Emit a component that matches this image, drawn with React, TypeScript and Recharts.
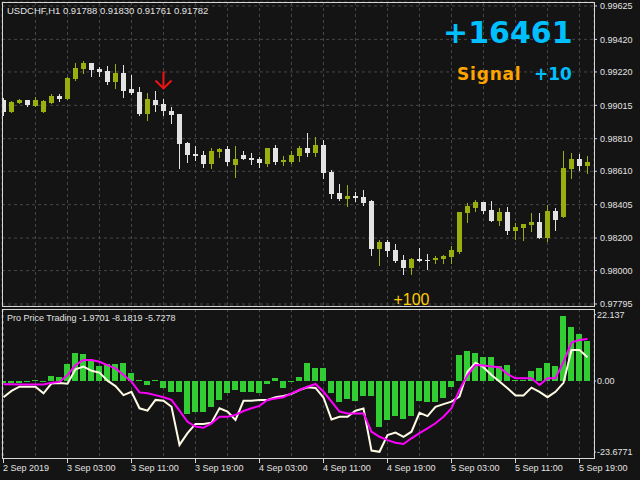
import React from 'react';
import {
  ComposedChart, Bar, Line, XAxis, YAxis, CartesianGrid, ReferenceDot,
} from 'recharts';

// USDCHF H1 candles (bar index = hour since 2 Sep 19:00)
const opens = [
  0.99048, 0.98974, 0.99029, 0.99048, 0.99011, 0.98974, 0.99029, 0.99072, 0.99054, 0.99177,
  0.99238, 0.99275, 0.99238, 0.99226, 0.99158, 0.99214, 0.99115, 0.99097, 0.98962, 0.99048,
  0.99023, 0.98980, 0.98962, 0.98784, 0.98716, 0.98710, 0.98655, 0.98728, 0.98747, 0.98649,
  0.98710, 0.98692, 0.98685, 0.98655, 0.98753, 0.98667, 0.98667, 0.98704, 0.98753, 0.98722,
  0.98771, 0.98606, 0.98477, 0.98440, 0.98458, 0.98452, 0.98428, 0.98133, 0.98176, 0.98127,
  0.98065, 0.98016, 0.98071, 0.98065, 0.98065, 0.98071, 0.98084, 0.98114, 0.98354, 0.98385,
  0.98421, 0.98372, 0.98305, 0.98360, 0.98243, 0.98262, 0.98280, 0.98299, 0.98200, 0.98366,
  0.98329, 0.98624, 0.98685, 0.98642,
];
const highs = [
  0.99060, 0.99042, 0.99054, 0.99048, 0.99066, 0.99048, 0.99085, 0.99085, 0.99189, 0.99275,
  0.99287, 0.99275, 0.99250, 0.99257, 0.99269, 0.99263, 0.99201, 0.99128, 0.99091, 0.99103,
  0.99054, 0.99005, 0.98962, 0.98790, 0.98765, 0.98735, 0.98753, 0.98753, 0.98765, 0.98765,
  0.98735, 0.98722, 0.98698, 0.98753, 0.98771, 0.98704, 0.98735, 0.98765, 0.98845, 0.98821,
  0.98802, 0.98618, 0.98532, 0.98526, 0.98483, 0.98495, 0.98434, 0.98188, 0.98188, 0.98163,
  0.98096, 0.98077, 0.98139, 0.98102, 0.98090, 0.98096, 0.98151, 0.98360, 0.98415, 0.98434,
  0.98421, 0.98428, 0.98385, 0.98391, 0.98292, 0.98286, 0.98354, 0.98354, 0.98403, 0.98385,
  0.98735, 0.98722, 0.98716, 0.98704,
];
const lows = [
  0.98956, 0.98974, 0.99029, 0.99011, 0.99011, 0.98974, 0.99029, 0.99042, 0.99054, 0.99171,
  0.99214, 0.99195, 0.99195, 0.99146, 0.99121, 0.99066, 0.99085, 0.98956, 0.98925, 0.98980,
  0.98956, 0.98907, 0.98630, 0.98667, 0.98679, 0.98636, 0.98630, 0.98698, 0.98649, 0.98575,
  0.98685, 0.98655, 0.98636, 0.98642, 0.98655, 0.98649, 0.98661, 0.98673, 0.98704, 0.98704,
  0.98569, 0.98446, 0.98434, 0.98397, 0.98428, 0.98403, 0.98096, 0.98034, 0.98090, 0.98053,
  0.97979, 0.97979, 0.98059, 0.98010, 0.98047, 0.98047, 0.98047, 0.98108, 0.98299, 0.98366,
  0.98354, 0.98305, 0.98280, 0.98225, 0.98194, 0.98188, 0.98243, 0.98200, 0.98182, 0.98249,
  0.98329, 0.98569, 0.98618, 0.98599,
];
const closes = [
  0.98974, 0.99035, 0.99048, 0.99017, 0.99048, 0.99042, 0.99072, 0.99054, 0.99183, 0.99244,
  0.99275, 0.99232, 0.99220, 0.99158, 0.99214, 0.99103, 0.99091, 0.98962, 0.99054, 0.99017,
  0.98980, 0.98956, 0.98778, 0.98710, 0.98704, 0.98655, 0.98735, 0.98747, 0.98667, 0.98685,
  0.98685, 0.98679, 0.98661, 0.98753, 0.98667, 0.98679, 0.98710, 0.98753, 0.98722, 0.98771,
  0.98599, 0.98470, 0.98440, 0.98458, 0.98446, 0.98415, 0.98133, 0.98176, 0.98120, 0.98059,
  0.98016, 0.98071, 0.98059, 0.98059, 0.98077, 0.98090, 0.98127, 0.98360, 0.98397, 0.98421,
  0.98366, 0.98305, 0.98360, 0.98243, 0.98268, 0.98286, 0.98299, 0.98200, 0.98366, 0.98311,
  0.98630, 0.98685, 0.98642, 0.98667,
];

// Pro Price Trading sub-window
const histogram = [
  -0.8, -0.8, -0.8, -0.5, 0.3, -0.5, 1.7, 1.3, 5.8, 9.3,
  9.0, 7.0, 5.0, 5.7, 5.7, 6.0, 2.7, 0.3, -1.3, 0.3,
  -2.3, -3.7, -3.7, -10.9, -10.2, -10.2, -8.6, -6.2, -4.0, -3.0,
  -3.7, -3.7, -4.0, -1.0, 1.0, -2.3, -0.3, 1.3, 6.0, 4.3,
  4.3, -4.0, -7.0, -6.0, -6.7, -5.0, -5.0, -15.3, -13.0, -11.7,
  -12.7, -11.7, -6.7, -7.0, -7.0, -5.7, -2.0, 8.7, 10.0, 9.3,
  8.0, 8.0, 5.0, 5.3, 0.3, 0.3, 3.3, 4.3, 6.0, 5.0,
  21.7, 18.0, 15.7, 13.3,
];
const fastLine = [
  -5.4, -3.3, -1.9, -1.9, -1.9, -4.1, -0.8, -0.7, -0.9, 3.9,
  4.8, 3.4, 2.8, 0.1, -1.7, -4.7, -3.6, -9.1, -9.9, -6.3,
  -6.6, -8.6, -21.3, -17.4, -14.3, -14.3, -13.9, -9.1, -10.2, -13.0,
  -6.6, -6.6, -6.3, -6.3, -5.4, -5.0, -4.3, -3.0, -2.1, -2.3,
  -5.5, -12.8, -11.9, -11.9, -9.9, -9.2, -23.2, -23.6, -18.0, -17.2,
  -18.6, -16.9, -10.6, -11.7, -8.6, -7.7, -6.9, -5.2, 3.1, 6.1,
  4.6, 2.0, -0.2, -2.4, -4.8, -4.8, -2.2, -3.6, -5.4, -3.6,
  -0.6, 10.3, 10.3, 7.9,
];
const slowLine = [
  -1.1, -1.1, -1.2, -1.2, -1.2, -1.2, -0.6, -0.3, 2.0, 5.3,
  7.0, 7.0, 6.4, 5.3, 4.2, 2.0, -0.2, -3.8, -4.1, -4.7,
  -5.4, -6.3, -9.9, -13.6, -15.2, -15.6, -14.1, -11.9, -11.9, -11.3,
  -10.0, -9.1, -8.3, -6.3, -5.8, -5.4, -4.1, -3.0, -1.9, -1.0,
  -3.6, -6.9, -10.2, -10.8, -10.8, -10.8, -16.9, -18.6, -19.7, -20.6,
  -21.0, -19.1, -17.4, -15.8, -14.1, -11.9, -9.1, -3.0, 2.0, 5.3,
  5.2, 4.8, 4.6, 2.3, 0.9, 0.9, 0.9, -1.3, 0.9, 0.9,
  6.4, 12.8, 13.7, 14.0,
];

const priceTicks = [0.99625, 0.9942, 0.9922, 0.99015, 0.9881, 0.9861, 0.98405, 0.982, 0.98, 0.97795];
const oscTicks = [22.137, 0, -23.6771];
const oscTickLabels = ['22.137', '0.00', '-23.6771'];
const gridTicks = [0, 4, 8, 12, 16, 20, 24, 28, 32, 36, 40, 44, 48, 52, 56, 60, 64, 68, 72];
const timeLabels = [
  '2 Sep 2019', '3 Sep 03:00', '3 Sep 11:00', '3 Sep 19:00', '4 Sep 03:00',
  '4 Sep 11:00', '4 Sep 19:00', '5 Sep 03:00', '5 Sep 11:00', '5 Sep 19:00',
];

const BG = '#141414';
const FRAME = '#d8d8d8';
const GRID = '#474747';
const TEXT = '#e2e2e2';
const BULL = '#9aae0e';
const BEAR = '#e3e3e3';
const HIST = '#32cd32';
const FONT = '"Liberation Sans", Arial, sans-serif';
const BIG_FONT = '"DejaVu Sans", sans-serif';

const X_DOMAIN = [-0.1875, 73.8125];
const PRICE_DOMAIN = [0.977827, 0.996496];
const OSC_DOMAIN = [-25.667, 24];

const rows = opens.map((open, i) => ({
  i,
  open,
  high: highs[i],
  low: lows[i],
  close: closes[i],
  hist: histogram[i],
  fast: fastLine[i],
  slow: slowLine[i],
}));

function Candle(props: any) {
  const { x, y, width, height, payload } = props;
  if (!payload || !Number.isFinite(y) || !Number.isFinite(height)) return null;
  const { open, high, low, close } = payload;
  const cx = Math.floor(x + width / 2) + 0.5;
  const span = high - low || 1;
  const py = (v: number) => y + ((high - v) / span) * height;
  const top = Math.round(py(Math.max(open, close)));
  const bot = Math.round(py(Math.min(open, close)));
  const color = close >= open ? BULL : BEAR;
  return (
    <g>
      <line x1={cx} x2={cx} y1={Math.round(y)} y2={Math.round(y + height) + 1} stroke={color} />
      <rect x={cx - 2.5} y={top} width={5} height={Math.max(bot - top, 1)} fill={color} />
    </g>
  );
}

function HistBar(props: any) {
  const { x, y, width, height } = props;
  if (!Number.isFinite(y) || !Number.isFinite(height)) return null;
  const cx = Math.floor(x + width / 2) + 0.5;
  const top = Math.round(Math.min(y, y + height));
  const bot = Math.round(Math.max(y, y + height));
  return <rect x={cx - 3.5} y={top} width={6} height={Math.max(bot - top, 1)} fill={HIST} />;
}

function SellArrow(props: any) {
  const { cx, cy } = props;
  return (
    <g stroke="#f21414" strokeWidth={2} fill="none">
      <line x1={cx} x2={cx} y1={cy - 9} y2={cy + 8} />
      <polyline points={`${cx - 8},${cy} ${cx},${cy + 8} ${cx + 8},${cy}`} />
    </g>
  );
}

function ProfitLabel(props: any) {
  const { cx, cy } = props;
  return (
    <text x={cx} y={cy + 1} textAnchor="middle" fill="#ffcc00" fontSize={16} fontFamily={FONT}>
      +100
    </text>
  );
}

function TimeTick(props: any) {
  const { x, y, payload } = props;
  const v = payload.value;
  if (v % 8 !== 0) return null;
  const px = Math.floor(x) + 0.5;
  return (
    <g>
      <line x1={px} x2={px} y1={y} y2={y + 5} stroke={FRAME} />
      <text x={px - 0.5} y={y + 13} fill={TEXT} fontSize={9} fontFamily={FONT}>
        {timeLabels[v / 8]}
      </text>
    </g>
  );
}

const frame = (top: number, height: number): React.CSSProperties => ({
  position: 'absolute', left: 2, top, width: 593, height,
  boxSizing: 'border-box', border: `1px solid ${FRAME}`, pointerEvents: 'none',
});

export default function App() {
  return (
    <div style={{ position: 'relative', width: 640, height: 480, background: BG, overflow: 'hidden' }}>
      <style>{`body{margin:0;background:${BG}}`}</style>

      <div style={{ position: 'absolute', left: 0, top: 0 }}>
        <ComposedChart width={640} height={309} data={rows} margin={{ top: 2, right: 0, bottom: 3, left: 2 }}>
          <CartesianGrid stroke={GRID} strokeDasharray="3 3" />
          <XAxis dataKey="i" type="number" domain={X_DOMAIN} ticks={gridTicks} allowDataOverflow hide />
          <YAxis
            orientation="right"
            domain={PRICE_DOMAIN}
            ticks={priceTicks}
            allowDataOverflow
            interval={0}
            width={46}
            axisLine={false}
            tickLine={{ stroke: FRAME }}
            tickSize={3}
            tickMargin={3}
            tick={{ fill: TEXT, fontSize: 9, fontFamily: FONT }}
            tickFormatter={(v: number) => v.toFixed(5)}
          />
          <Bar dataKey={(d: any) => [d.low, d.high]} shape={<Candle />} isAnimationActive={false} />
          <ReferenceDot x={20} y={0.99168} shape={<SellArrow />} />
          <ReferenceDot x={51} y={0.97795} shape={<ProfitLabel />} />
        </ComposedChart>
      </div>

      <div style={{ position: 'absolute', left: 0, top: 309 }}>
        <ComposedChart width={640} height={171} data={rows} margin={{ top: 0, right: 0, bottom: 0, left: 2 }}>
          <CartesianGrid stroke={GRID} strokeDasharray="3 3" horizontal={false} />
          <XAxis
            dataKey="i"
            type="number"
            domain={X_DOMAIN}
            ticks={gridTicks}
            allowDataOverflow
            interval={0}
            height={22}
            axisLine={false}
            tickLine={false}
            tickSize={0}
            tickMargin={0}
            tick={<TimeTick />}
          />
          <YAxis
            orientation="right"
            domain={OSC_DOMAIN}
            ticks={oscTicks}
            allowDataOverflow
            interval={0}
            width={46}
            axisLine={false}
            tickLine={{ stroke: FRAME }}
            tickSize={2}
            tickMargin={1}
            tick={{ fill: TEXT, fontSize: 9, fontFamily: FONT }}
            tickFormatter={(v: number) => oscTickLabels[oscTicks.indexOf(v)]}
          />
          <Bar dataKey="hist" shape={<HistBar />} isAnimationActive={false} />
          <Line type="linear" dataKey="fast" stroke="#fffbe4" strokeWidth={2} dot={false} isAnimationActive={false} />
          <Line type="linear" dataKey="slow" stroke="#ff00ff" strokeWidth={2} dot={false} isAnimationActive={false} />
        </ComposedChart>
      </div>

      <div style={frame(2, 305)} />
      <div style={frame(309, 150)} />

      <svg width={640} height={480} style={{ position: 'absolute', left: 0, top: 0, pointerEvents: 'none' }}>
        <text x={7} y={14} fill={TEXT} fontSize={9.5} fontFamily={FONT}>
          USDCHF,H1  0.91788 0.91830 0.91761 0.91782
        </text>
        <text x={7} y={320.5} fill={TEXT} fontSize={9} fontFamily={FONT}>
          Pro Price Trading -1.9701 -8.1819 -5.7278
        </text>
        <text x={443} y={43} fill="#00bfff" fontSize={30} fontWeight="bold" fontFamily={BIG_FONT}>
          +16461
        </text>
        <text x={457} y={80} fill="#ffa500" fontSize={17} fontWeight="bold" letterSpacing={0.8} fontFamily={BIG_FONT}>
          Signal
        </text>
        <text x={534} y={80} fill="#00bfff" fontSize={17} fontWeight="bold" fontFamily={BIG_FONT}>
          +10
        </text>
      </svg>
    </div>
  );
}
